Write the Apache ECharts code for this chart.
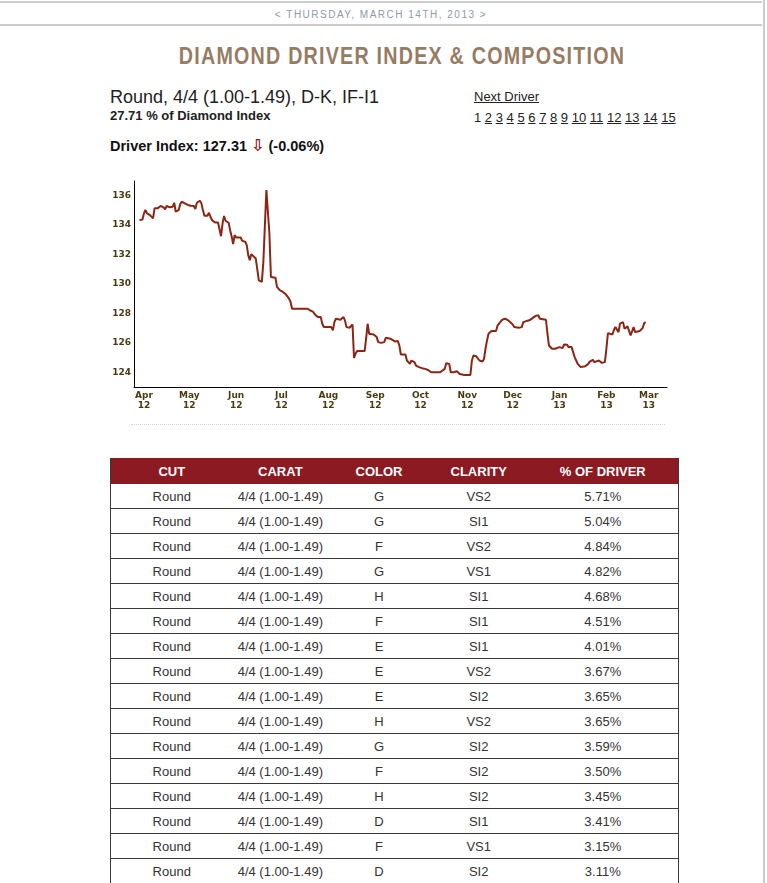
<!DOCTYPE html>
<html>
<head>
<meta charset="utf-8">
<script src="https://cdn.jsdelivr.net/npm/echarts@6/dist/echarts.min.js"></script>
<style>
  html, body { margin: 0; padding: 0; background: #fff; }
  body { width: 767px; height: 883px; overflow: hidden; position: relative; font-family: "Liberation Sans", Arial, sans-serif; color: #222; }
  .abs { position: absolute; white-space: nowrap; }
  .rule { position: absolute; background: #cccccc; }
  #date { left: 0; top: 5px; width: 762px; height: 20px; line-height: 20px; text-align: center; font-size: 10px; letter-spacing: 1.5px; color: #8d9aa8; }
  #title { left: 102px; top: 41px; width: 600px; line-height: 30px; text-align: center; font-family: "Liberation Sans", Arial, sans-serif; font-weight: bold; font-size: 24px; letter-spacing: 1.5px; color: #977c64; transform: scaleX(0.82); transform-origin: 50% 50%; }
  #driverName { left: 110px; top: 85px; line-height: 24px; font-size: 18px; color: #222; }
  #share { left: 110px; top: 106px; line-height: 20px; font-size: 13px; font-weight: bold; color: #222; }
  #driverIdx { left: 110px; top: 136px; line-height: 20px; font-size: 14.5px; font-weight: bold; color: #111; }
  #driverIdx .arrow { color: #8b1a22; font-family: "DejaVu Sans", sans-serif; font-weight: bold; font-size: 16px; }
  #next { left: 474px; top: 87px; line-height: 20px; font-size: 13px; color: #222; text-decoration: underline; }
  #pages { left: 474px; top: 108px; line-height: 20px; font-size: 13px; color: #222; }
  #pages u { text-decoration: underline; }
  #chart { position: absolute; left: 0; top: 170px; width: 767px; height: 270px; }
  #chartFoot { position: absolute; left: 131px; top: 424px; width: 534px; border-top: 1px dotted #d6d6d6; }
  #tbl { position: absolute; left: 110px; top: 458px; width: 569px; border-collapse: collapse; font-size: 13px; color: #333; }
  #tbl th, #tbl td { border: 1px solid #3a3a3a; height: 24px; padding: 0; text-align: center; }
  #tbl th { background: #8b1a22; color: #fff; font-weight: bold; border-color: #8b1a22; border-left: none; border-right: none; }
  #tbl td { border-left: none; border-right: none; }
  #tbl tr td:first-child, #tbl tr th:first-child { border-left: 1px solid #3a3a3a; }
  #tbl tr td:last-child, #tbl tr th:last-child { border-right: 1px solid #3a3a3a; }
</style>
</head>
<body>
<div class="rule" style="left:0;top:1px;width:762px;height:2px;"></div>
<div class="rule" style="left:0;top:24px;width:762px;height:2px;"></div>
<div class="rule" style="left:763px;top:0;width:2px;height:883px;"></div>

<div id="date" class="abs">&lt; THURSDAY, MARCH 14TH, 2013 &gt;</div>
<div id="title" class="abs">DIAMOND DRIVER INDEX &amp; COMPOSITION</div>
<div id="driverName" class="abs">Round, 4/4 (1.00-1.49), D-K, IF-I1</div>
<div id="share" class="abs">27.71 % of Diamond Index</div>
<div id="driverIdx" class="abs">Driver Index: 127.31 <span class="arrow">⇩</span> (-0.06%)</div>
<div id="next" class="abs">Next Driver</div>
<div id="pages" class="abs"></div>

<div id="chart"></div>
<div id="chartFoot"></div>

<table id="tbl"><thead><tr id="headRow"></tr></thead><tbody id="tbody"></tbody></table>

<script>
// ---------- chart data ----------
const startDate = [2012, 3, 1]; // April 1st 2012 (month is 0-based)
const dayOffsets = [
  -3, -1, 0, 1, 2, 4, 6, 7, 9, 11, 13, 14, 15, 17, 19, 20, 21, 22, 23, 24,
  25, 27, 29, 31, 33, 34, 35, 37, 38, 39, 40, 42, 43, 44, 45, 47, 49, 50, 51, 52,
  53, 54, 55, 56, 57, 58, 59, 60, 61, 62, 64, 65, 66, 67, 68, 69, 70, 71, 72, 74,
  75, 76, 78, 79, 80, 81, 82, 83, 84, 85, 87, 88, 89, 90, 92, 94, 95, 96, 97, 98,
  102, 108, 110, 112, 113, 115, 117, 118, 119, 121, 122, 124, 125, 126, 127, 130, 131, 132, 133, 134,
  136, 138, 139, 140, 141, 144, 146, 147, 148, 149, 150, 152, 154, 155, 157, 159, 160, 163, 164, 166,
  168, 169, 170, 173, 174, 176, 177, 179, 180, 182, 184, 186, 188, 190, 196, 197, 199, 200, 202, 203,
  205, 207, 209, 212, 216, 217, 218, 220, 222, 224, 225, 226, 227, 228, 230, 233, 234, 237, 239, 241,
  244, 245, 248, 250, 251, 253, 255, 256, 259, 260, 261, 262, 266, 267, 268, 269, 270, 272, 273, 275,
  277, 278, 280, 281, 283, 284, 285, 286, 287, 289, 290, 292, 294, 295, 297, 298, 299, 301, 303, 305,
  306, 307, 308, 310, 311, 312, 314, 315, 317, 318, 320, 321, 322, 323, 324, 325, 326, 328, 330, 331,
  332
];
const indexValues = [
  134.34, 134.39, 134.80, 135.03, 134.80, 134.68, 134.46, 135.14, 135.14, 135.30, 135.21, 135.07, 135.30, 135.21, 135.25, 135.52, 134.91, 134.80, 135.03, 135.43,
  135.59, 135.48, 135.37, 135.32, 135.30, 135.09, 135.52, 135.66, 135.48, 135.03, 134.64, 134.64, 134.84, 134.57, 134.34, 134.18, 134.18, 134.16, 133.25, 134.12,
  134.62, 134.30, 134.23, 134.16, 133.66, 133.25, 132.71, 133.32, 133.16, 133.21, 133.16, 132.93, 132.91, 132.87, 132.64, 131.96, 131.62, 132.03, 132.03, 131.73,
  131.68, 130.25, 130.14, 131.50, 131.62, 136.39, 136.34, 133.43, 130.48, 130.48, 130.43, 129.80, 129.68, 129.57, 129.46, 129.28, 129.23, 129.00, 128.78, 128.32,
  128.32, 128.32, 128.21, 128.10, 127.94, 127.75, 127.75, 127.30, 127.07, 127.07, 127.14, 127.07, 126.85, 127.41, 127.64, 127.57, 127.53, 127.75, 127.53, 127.07,
  127.03, 127.25, 124.98, 125.26, 125.44, 125.44, 125.44, 126.28, 127.30, 126.62, 126.62, 126.57, 126.39, 126.05, 126.00, 126.05, 126.35, 126.28, 126.16, 126.10,
  126.12, 125.82, 125.21, 125.21, 124.80, 124.57, 124.80, 124.69, 124.46, 124.35, 124.28, 124.23, 124.16, 124.00, 124.00, 124.12, 124.23, 124.62, 124.57, 124.00,
  124.00, 124.07, 123.89, 123.82, 123.82, 124.80, 125.14, 125.07, 124.80, 124.73, 124.91, 125.60, 126.16, 126.62, 126.80, 126.80, 127.19, 127.57, 127.64, 127.53,
  127.25, 127.07, 127.03, 127.07, 127.41, 127.48, 127.53, 127.64, 127.82, 127.87, 127.87, 127.64, 127.57, 126.62, 125.82, 125.75, 125.60, 125.60, 125.64, 125.71,
  125.64, 125.89, 125.87, 125.71, 125.71, 125.37, 125.03, 124.80, 124.57, 124.35, 124.46, 124.41, 124.57, 124.73, 124.85, 124.69, 124.80, 124.80, 124.64, 124.69,
  125.60, 126.66, 126.62, 126.57, 126.89, 127.07, 126.73, 127.30, 127.41, 126.96, 127.12, 127.07, 126.50, 126.39, 127.07, 126.73, 126.85, 126.80, 127.01, 127.34,
  127.41
];
const monthLabels = ['Apr', 'May', 'Jun', 'Jul', 'Aug', 'Sep', 'Oct', 'Nov', 'Dec', 'Jan', 'Feb', 'Mar'];
const yearLabels  = ['12', '12', '12', '12', '12', '12', '12', '12', '12', '13', '13', '13'];
const yTickValues = [124, 126, 128, 130, 132, 134, 136];
const axisStartOffset = -6.6;  // days before April 1st 2012
const axisEndOffset = 346.1;   // days after April 1st 2012

// ---------- table data ----------
const tableHeaders = ['CUT', 'CARAT', 'COLOR', 'CLARITY', '% OF DRIVER'];
const cuts = Array(16).fill('Round');
const carats = Array(16).fill('4/4 (1.00-1.49)');
const colorGrades = ['G', 'G', 'F', 'G', 'H', 'F', 'E', 'E', 'E', 'H', 'G', 'F', 'H', 'D', 'F', 'D'];
const clarities = ['VS2', 'SI1', 'VS2', 'VS1', 'SI1', 'SI1', 'SI1', 'VS2', 'SI2', 'VS2', 'SI2', 'SI2', 'SI2', 'SI1', 'VS1', 'SI2'];
const shares = ['5.71', '5.04', '4.84', '4.82', '4.68', '4.51', '4.01', '3.67', '3.65', '3.65', '3.59', '3.50', '3.45', '3.41', '3.15', '3.11'];
const pageNumbers = [1, 2, 3, 4, 5, 6, 7, 8, 9, 10, 11, 12, 13, 14, 15];
const colWidths = [122, 96, 102, 98, 151];

// ---------- build page text ----------
document.getElementById('pages').innerHTML = pageNumbers.map((n, i) => i === 0 ? String(n) : '<u>' + n + '</u>').join(' ');
const headRow = document.getElementById('headRow');
tableHeaders.forEach((h, i) => {
  const th = document.createElement('th');
  th.textContent = h;
  th.style.width = colWidths[i] + 'px';
  headRow.appendChild(th);
});
const tbody = document.getElementById('tbody');
for (let i = 0; i < cuts.length; i++) {
  const tr = document.createElement('tr');
  [cuts[i], carats[i], colorGrades[i], clarities[i], shares[i] + '%'].forEach(v => {
    const td = document.createElement('td');
    td.textContent = v;
    tr.appendChild(td);
  });
  tbody.appendChild(tr);
}

// ---------- chart ----------
const DAY = 86400000;
const base = new Date(startDate[0], startDate[1], startDate[2]).getTime();
const toTs = d => new Date(startDate[0], startDate[1], startDate[2] + d).getTime();
const seriesData = dayOffsets.map((d, i) => [toTs(d), indexValues[i]]);
const monthTicks = monthLabels.map((m, i) => new Date(startDate[0], startDate[1] + i, 1).getTime());

const labelColor = '#4b3a12';
const chart = echarts.init(document.getElementById('chart'), null, { renderer: 'canvas' });
chart.setOption({
  animation: false,
  grid: { left: 134, right: 100, top: 11, bottom: 53 },
  xAxis: {
    type: 'value',
    min: base + axisStartOffset * DAY,
    max: base + axisEndOffset * DAY,
    axisLine: { show: true, lineStyle: { color: '#000', width: 1 } },
    axisTick: { show: false },
    splitLine: { show: false },
    axisLabel: {
      customValues: monthTicks,
      margin: 4,
      fontSize: 9,
      lineHeight: 10,
      fontWeight: 'bold',
      fontFamily: 'DejaVu Sans',
      color: labelColor,
      formatter: function (val) {
        let idx = 0, best = Infinity;
        monthTicks.forEach((t, i) => { const dd = Math.abs(t - val); if (dd < best) { best = dd; idx = i; } });
        return monthLabels[idx] + '\n' + yearLabels[idx];
      }
    }
  },
  yAxis: {
    type: 'value',
    min: 123,
    max: 137,
    axisLine: { show: true, lineStyle: { color: '#000', width: 1 } },
    axisTick: { show: false },
    splitLine: { show: false },
    axisLabel: {
      customValues: yTickValues,
      margin: 3,
      fontSize: 9,
      fontWeight: 'bold',
      fontFamily: 'DejaVu Sans',
      color: labelColor
    }
  },
  series: [{
    type: 'line',
    data: seriesData,
    showSymbol: false,
    symbol: 'none',
    lineStyle: { color: '#8b2614', width: 2 },
    emphasis: { disabled: true }
  }]
});
</script>
</body>
</html>
